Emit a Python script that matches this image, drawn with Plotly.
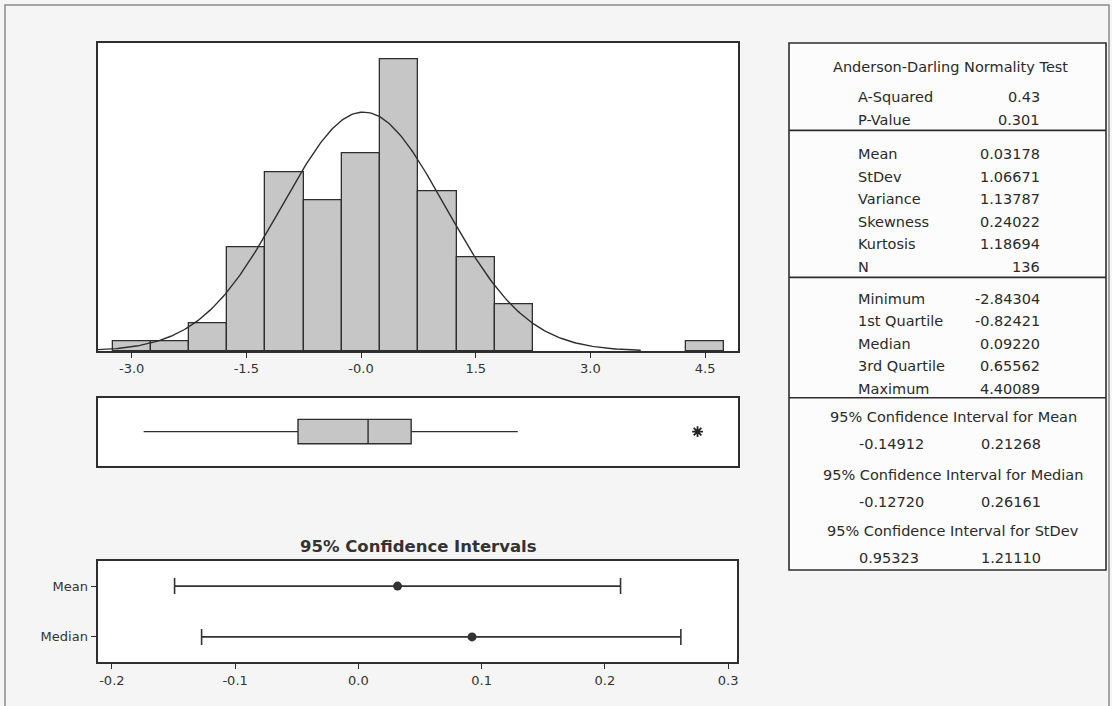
import numpy as np
import plotly.graph_objects as go

W, H = 1112, 706

# ---------------- data ----------------
bin_centers = [-3.0, -2.5, -2.0, -1.5, -1.0, -0.5, 0.0, 0.5, 1.0, 1.5, 2.0, 4.5]
bin_counts = [1, 1, 3, 11, 19, 16, 21, 31, 17, 10, 5, 1]
bin_width = 0.5

hist_tickvals = [-3.0, -1.5, 0.0, 1.5, 3.0, 4.5]
hist_ticktext = ["-3.0", "-1.5", "-0.0", "1.5", "3.0", "4.5"]

n_obs = 136
mean_val = 0.03178
stdev_val = 1.06671

box_min = -2.84304
box_q1 = -0.82421
box_median = 0.09220
box_q3 = 0.65562
box_upper_whisker = 2.05
outliers = [4.40089]

ci_labels = ["Mean", "Median"]
ci_centers = [0.03178, 0.09220]
ci_lower = [-0.14912, -0.12720]
ci_upper = [0.21268, 0.26161]
ci_tickvals = [-0.2, -0.1, 0.0, 0.1, 0.2, 0.3]
ci_ticktext = ["-0.2", "-0.1", "0.0", "0.1", "0.2", "0.3"]

ad_labels = ["A-Squared", "P-Value"]
ad_values = ["0.43", "0.301"]
desc_labels = ["Mean", "StDev", "Variance", "Skewness", "Kurtosis", "N"]
desc_values = ["0.03178", "1.06671", "1.13787", "0.24022", "1.18694", "136"]
quant_labels = ["Minimum", "1st Quartile", "Median", "3rd Quartile", "Maximum"]
quant_values = ["-2.84304", "-0.82421", "0.09220", "0.65562", "4.40089"]
ci_titles = ["95% Confidence Interval for Mean",
             "95% Confidence Interval for Median",
             "95% Confidence Interval for StDev"]
ci_lo_text = ["-0.14912", "-0.12720", "0.95323"]
ci_hi_text = ["0.21268", "0.26161", "1.21110"]

# ---------------- helpers ----------------
def px(x):
    return x / W

def py(y):
    return 1 - y / H

FONT = "DejaVu Sans"
TXT = "#2a2a2a"
LINE = "#2e2e2e"

fig = go.Figure()

# histogram bars
fig.add_trace(go.Bar(
    x=bin_centers, y=bin_counts, width=bin_width,
    marker=dict(color="#c6c6c6", line=dict(color="#2e2e2e", width=1.3)),
    xaxis="x", yaxis="y", showlegend=False, hoverinfo="x+y"))

# fitted normal curve (from the reported mean / stdev)
xc = np.linspace(mean_val - 3.4 * stdev_val, mean_val + 3.4 * stdev_val, 300)
yc = n_obs * bin_width / (stdev_val * np.sqrt(2 * np.pi)) * np.exp(-0.5 * ((xc - mean_val) / stdev_val) ** 2)
fig.add_trace(go.Scatter(x=xc, y=yc, mode="lines", line=dict(color=LINE, width=1.4),
                         xaxis="x", yaxis="y", showlegend=False, hoverinfo="skip"))

# boxplot
fig.add_trace(go.Box(
    orientation="h", y=[0], q1=[box_q1], median=[box_median], q3=[box_q3],
    lowerfence=[box_min], upperfence=[box_upper_whisker], width=0.72,
    whiskerwidth=0, fillcolor="#c6c6c6", line=dict(color="#2e2e2e", width=1.4),
    boxpoints=False, xaxis="x2", yaxis="y2", showlegend=False))
fig.add_trace(go.Scatter(
    x=outliers, y=[0] * len(outliers), mode="markers",
    marker=dict(symbol="asterisk-open", size=9, color="#222222",
                line=dict(color="#222222", width=1.8)),
    xaxis="x2", yaxis="y2", showlegend=False))

# confidence intervals
ci_y = [1, 0]
fig.add_trace(go.Scatter(
    x=ci_centers, y=ci_y, mode="markers",
    marker=dict(color="#333", size=9),
    error_x=dict(type="data", symmetric=False,
                 array=[u - c for u, c in zip(ci_upper, ci_centers)],
                 arrayminus=[c - l for c, l in zip(ci_centers, ci_lower)],
                 color="#333", thickness=1.6, width=8),
    xaxis="x3", yaxis="y3", showlegend=False))

axis_common = dict(showline=True, mirror=True, linecolor=LINE, linewidth=1.6,
                   showgrid=False, zeroline=False)

fig.update_layout(
    width=W, height=H,
    margin=dict(l=0, r=0, t=0, b=0),
    paper_bgcolor="#f5f5f5",
    plot_bgcolor="#ffffff",
    font=dict(family=FONT, color=TXT, size=12),
    bargap=0,
    xaxis=dict(domain=[px(98), px(738)], range=[-3.44, 4.93], anchor="y",
               tickmode="array", tickvals=hist_tickvals, ticktext=hist_ticktext,
               ticks="outside", ticklen=5, tickcolor=LINE, tickwidth=1.3,
               tickfont=dict(size=13, color="#333"), **axis_common),
    yaxis=dict(domain=[py(351), py(43.3)], range=[0, 32.75], anchor="x",
               showticklabels=False, ticks="", **axis_common),
    xaxis2=dict(domain=[px(98), px(738)], range=[-3.44, 4.93], anchor="y2",
                showticklabels=False, ticks="", **axis_common),
    yaxis2=dict(domain=[py(465.5), py(397.7)], range=[-1, 1], anchor="x2",
                showticklabels=False, ticks="", **axis_common),
    xaxis3=dict(domain=[px(98.3), px(737.3)], range=[-0.211, 0.3074], anchor="y3",
                tickmode="array", tickvals=ci_tickvals, ticktext=ci_ticktext,
                ticks="outside", ticklen=5, tickcolor=LINE, tickwidth=1.3,
                tickfont=dict(size=13, color="#333"), **axis_common),
    yaxis3=dict(domain=[py(662.3), py(560.7)], range=[-0.5, 1.5], anchor="x3",
                tickmode="array", tickvals=ci_y, ticktext=ci_labels,
                ticks="outside", ticklen=6, tickcolor=LINE, tickwidth=1.3,
                tickfont=dict(size=13, color="#333"), **axis_common),
)

shapes = []
annotations = []

# outer frame
shapes.append(dict(type="rect", xref="paper", yref="paper",
                   x0=px(5), x1=px(1109), y0=py(712), y1=py(5),
                   line=dict(color="#8a8a8a", width=1.5), fillcolor="rgba(0,0,0,0)", layer="below"))

# CI title
annotations.append(dict(text="95% Confidence Intervals", x=px(418), y=py(546),
                        xref="paper", yref="paper", showarrow=False,
                        xanchor="center", yanchor="middle",
                        font=dict(family=FONT, size=16.5, color="#333", weight="bold")))

# table frame
TL, TR, TT, TB = 789, 1106, 43, 570
shapes.append(dict(type="rect", xref="paper", yref="paper",
                   x0=px(TL), x1=px(TR), y0=py(TB), y1=py(TT),
                   line=dict(color=LINE, width=1.6), fillcolor="#fcfcfc", layer="below"))
for sy in [130.4, 277.4, 397.7]:
    shapes.append(dict(type="line", xref="paper", yref="paper",
                       x0=px(TL), x1=px(TR), y0=py(sy), y1=py(sy),
                       line=dict(color=LINE, width=1.6)))

TF = dict(family=FONT, size=14.5, color=TXT)

def add_text(t, x, y, anchor):
    annotations.append(dict(text=t, x=px(x), y=py(y), xref="paper", yref="paper",
                            showarrow=False, xanchor=anchor, yanchor="middle", font=TF))

add_text("Anderson-Darling Normality Test", 950, 67, "center")
LX, RX = 856, 1042
for lab, val, y in zip(ad_labels, ad_values, [97, 120]):
    add_text(lab, LX, y, "left")
    add_text(val, RX, y, "right")
for lab, val, y in zip(desc_labels, desc_values, [154, 176.5, 199, 221.5, 244, 267]):
    add_text(lab, LX, y, "left")
    add_text(val, RX, y, "right")
for lab, val, y in zip(quant_labels, quant_values, [298.6, 321, 343.5, 366, 389]):
    add_text(lab, LX, y, "left")
    add_text(val, RX, y, "right")
for title, lo, hi, ty, vy in zip(ci_titles, ci_lo_text, ci_hi_text,
                                 [417, 474.7, 531], [444, 502, 558]):
    add_text(title, 953, ty, "center")
    add_text(lo, 857, vy, "left")
    add_text(hi, 1043, vy, "right")

fig.update_layout(shapes=shapes, annotations=annotations)

fig.write_html("out.html")
